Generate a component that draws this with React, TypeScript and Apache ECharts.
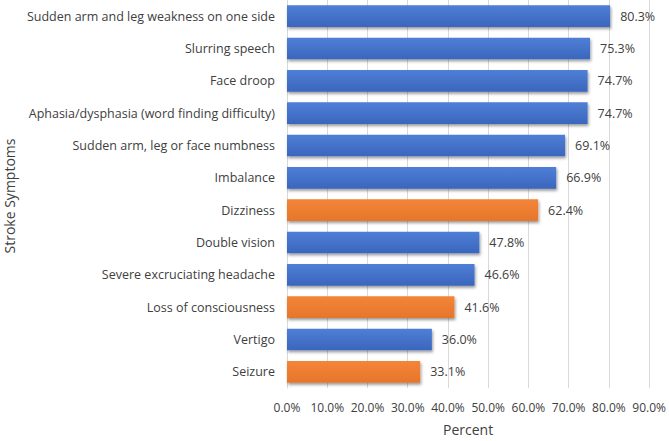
import React, { useEffect, useRef } from "react";
import * as echarts from "echarts";

const categories = [
  "Sudden arm and leg weakness on one side",
  "Slurring speech",
  "Face droop",
  "Aphasia/dysphasia (word finding difficulty)",
  "Sudden arm, leg or face numbness",
  "Imbalance",
  "Dizziness",
  "Double vision",
  "Severe excruciating headache",
  "Loss of consciousness",
  "Vertigo",
  "Seizure",
];
const values = [80.3, 75.3, 74.7, 74.7, 69.1, 66.9, 62.4, 47.8, 46.6, 41.6, 36.0, 33.1];
const highlighted = ["Dizziness", "Loss of consciousness", "Seizure"];
const xTicks = { min: 0, max: 90, interval: 10 };

const FONT = "'Open Sans', 'Noto Sans', sans-serif";
const TEXT = "#404040";

export default function App() {
  const ref = useRef<HTMLDivElement>(null);
  useEffect(() => {
    if (!ref.current) return;
    const chart = echarts.init(ref.current, null, { renderer: "svg" });
    const blue = new echarts.graphic.LinearGradient(0, 0, 0, 1, [
      { offset: 0, color: "#4f7fd6" },
      { offset: 1, color: "#3a66bd" },
    ]);
    const orange = new echarts.graphic.LinearGradient(0, 0, 0, 1, [
      { offset: 0, color: "#f48438" },
      { offset: 1, color: "#e6762a" },
    ]);
    chart.setOption({
      animation: false,
      backgroundColor: "#ffffff",
      textStyle: { fontFamily: FONT },
      grid: { left: 287, right: 17, top: 0, bottom: 48, containLabel: false },
      xAxis: {
        type: "value",
        min: xTicks.min,
        max: xTicks.max,
        interval: xTicks.interval,
        name: "Percent",
        nameLocation: "middle",
        nameGap: 34,
        nameTextStyle: { color: TEXT, fontSize: 14, fontFamily: FONT },
        axisLine: { show: false },
        axisTick: { show: false },
        axisLabel: {
          color: TEXT,
          fontSize: 12,
          fontFamily: FONT,
          margin: 13,
          formatter: (v: number) => v.toFixed(1) + "%",
        },
        splitLine: { show: true, lineStyle: { color: "#d9d9d9", width: 1 } },
      },
      yAxis: {
        type: "category",
        data: categories,
        inverse: true,
        axisLine: { show: true, lineStyle: { color: "#d9d9d9" } },
        axisTick: { show: false },
        axisLabel: { color: TEXT, fontSize: 12.5, fontFamily: FONT, margin: 12 },
      },
      graphic: [
        {
          type: "text",
          x: 9,
          y: 196,
          rotation: Math.PI / 2,
          style: {
            text: "Stroke Symptoms",
            fill: TEXT,
            fontSize: 14,
            fontFamily: FONT,
            align: "center",
            verticalAlign: "middle",
          },
        },
      ],
      series: [
        {
          type: "bar",
          barWidth: "67%",
          data: values.map((v, i) => ({
            value: v,
            itemStyle: {
              color: highlighted.includes(categories[i]) ? orange : blue,
            },
          })),
          itemStyle: {
            shadowColor: "rgba(0,0,0,0.4)",
            shadowBlur: 3,
            shadowOffsetX: 1,
            shadowOffsetY: 2,
          },
          label: {
            show: true,
            position: "right",
            distance: 10,
            color: TEXT,
            fontSize: 12.5,
            fontFamily: FONT,
            formatter: (p: any) => Number(p.value).toFixed(1) + "%",
          },
        },
      ],
    });
    return () => chart.dispose();
  }, []);
  return <div ref={ref} style={{ width: 669, height: 441, position: "absolute", left: 0, top: 0 }} />;
}
